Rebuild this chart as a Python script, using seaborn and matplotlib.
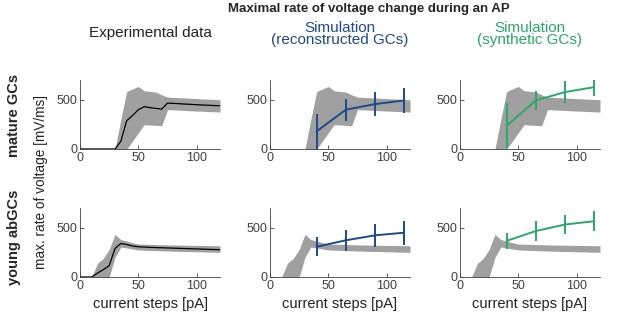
import numpy as np
import pandas as pd
import matplotlib
matplotlib.use("Agg")
import matplotlib.pyplot as plt
import seaborn as sns

# ─────────────────────────────────────────────
# DATA
# ─────────────────────────────────────────────
steps = [0, 5, 10, 15, 20, 25, 30, 35, 40, 45, 50, 55, 60, 65, 70, 75,
         80, 85, 90, 95, 100, 105, 110, 115, 120]

# mature GCs, experimental mean and band
mature_mean = [0, 0, 0, 0, 0, 0, 0, 78, 287, 340, 399, 430, 420, 412, 405, 466,
               463, 460, 456, 453, 450, 447, 444, 441, 439]
mature_upper = [0, 0, 0, 0, 0, 0, 0, 300, 584, 610, 635, 591, 585, 578, 550, 527,
                524, 521, 518, 515, 512, 509, 506, 503, 500]
mature_lower = [0, 0, 0, 0, 0, 0, 0, 0, 0, 80, 165, 247, 243, 240, 236, 399,
                397, 394, 391, 388, 385, 383, 380, 378, 375]

# young abGCs, experimental mean and band
young_mean = [0, 0, 0, 40, 75, 115, 290, 340, 330, 315, 307, 304, 301, 299, 297, 295,
              293, 291, 289, 287, 285, 283, 281, 279, 277]
young_upper = [0, 0, 0, 140, 190, 280, 433, 380, 365, 348, 335, 333, 331, 329, 328, 326,
               325, 324, 323, 322, 321, 320, 319, 318, 317]
young_lower = [0, 0, 0, 0, 0, 0, 200, 305, 295, 284, 275, 272, 270, 268, 266, 264,
               262, 260, 259, 258, 256, 255, 253, 252, 250]

sim_steps = [40, 65, 90, 115]
recon_mature = [180, 399, 456, 493]
recon_mature_err = [180, 113, 118, 126]
synth_mature = [236, 493, 578, 628]
synth_mature_err = [230, 100, 110, 93]
recon_young = [307, 373, 423, 450]
recon_young_err = [97, 108, 117, 120]
synth_young = [367, 467, 533, 567]
synth_young_err = [80, 97, 95, 100]

col_titles = ["Experimental data", "Simulation\n(reconstructed GCs)", "Simulation\n(synthetic GCs)"]
row_titles = ["mature GCs", "young abGCs"]

BLUE = "#1d4a8a"
GREEN = "#2aa86a"
GREY = "#a0a0a0"

# ─────────────────────────────────────────────
# FIGURE
# ─────────────────────────────────────────────
sns.set_style("ticks")
plt.rcParams['font.family'] = ['Liberation Sans', 'DejaVu Sans']

fig = plt.figure(figsize=(6.17, 3.19), dpi=100)

lefts = [0.1297, 0.4376, 0.7455]
bottoms = [0.533, 0.1317]
w, h = 0.2269, 0.216

exp = [(mature_mean, mature_upper, mature_lower), (young_mean, young_upper, young_lower)]
sims = [
    [(recon_mature, recon_mature_err, BLUE), (synth_mature, synth_mature_err, GREEN)],
    [(recon_young, recon_young_err, BLUE), (synth_young, synth_young_err, GREEN)],
]

for r in range(2):
    mean, upper, lower = exp[r]
    for c in range(3):
        ax = fig.add_axes([lefts[c], bottoms[r], w, h])
        ax.fill_between(steps, lower, upper, color=GREY, lw=0)
        if c == 0:
            df = pd.DataFrame({"x": steps, "y": mean})
            sns.lineplot(data=df, x="x", y="y", ax=ax, color="black", lw=0.9)
        else:
            vals, err, col = sims[r][c - 1]
            df = pd.DataFrame({"x": sim_steps, "y": vals})
            sns.lineplot(data=df, x="x", y="y", ax=ax, color=col, lw=1.4)
            ax.errorbar(sim_steps, vals, yerr=err, fmt="none", ecolor=col, elinewidth=1.4, capsize=0)
        ax.set_xlim(0, 120)
        ax.set_ylim(0, 700)
        ax.set_xticks([0, 50, 100])
        ax.set_yticks([0, 500])
        ax.tick_params(direction="in", length=3, labelsize=9, colors="#404040", width=0.6, pad=2)
        for s in ["left", "bottom"]:
            ax.spines[s].set_color("#404040")
            ax.spines[s].set_linewidth(0.6)
        sns.despine(ax=ax)
        ax.set_ylabel("")
        if r == 1:
            ax.set_xlabel("current steps [pA]", fontsize=10.5, color="#222222", labelpad=4)
        else:
            ax.set_xlabel("")

fig.text(0.598, 0.972, "Maximal rate of voltage change during an AP", ha="center", va="center",
         fontsize=9.5, fontweight="bold")
title_cols = ["#222222", BLUE, GREEN]
title_y = [0.898, 0.893, 0.893]
for c in range(3):
    fig.text(lefts[c] + w / 2, title_y[c], col_titles[c], ha="center", va="center",
             fontsize=11, color=title_cols[c], linespacing=0.85)

fig.text(0.022, 0.637, row_titles[0], rotation=90, ha="center", va="center",
         fontsize=10.5, fontweight="bold")
fig.text(0.022, 0.257, row_titles[1], rotation=90, ha="center", va="center",
         fontsize=10.5, fontweight="bold")
fig.text(0.066, 0.43, "max. rate of voltage [mV/ms]", rotation=90, ha="center", va="center",
         fontsize=9.8, color="#222222")

fig.savefig("out.png", dpi=100)
